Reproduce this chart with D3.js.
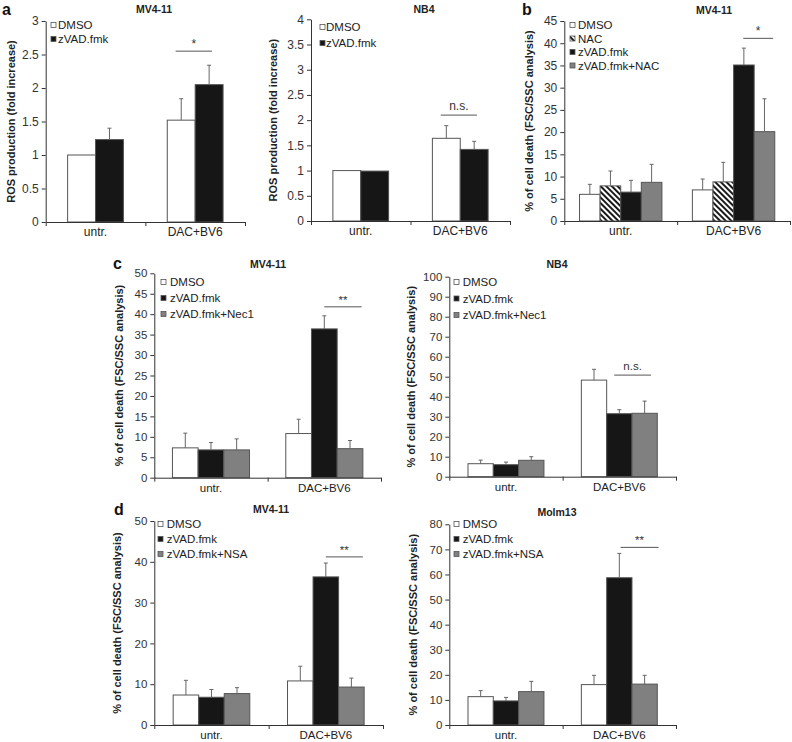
<!DOCTYPE html>
<html>
<head>
<meta charset="utf-8">
<script src="https://cdn.jsdelivr.net/npm/d3@7"></script>
<style>
  html, body { margin: 0; padding: 0; background: #fff; }
  svg { display: block; font-family: "Liberation Sans", Arial, sans-serif; }
</style>
</head>
<body>
<svg id="chart" width="792" height="742"></svg>
<script>
// ---------------- DATA ----------------
const categories = ["untr.", "DAC+BV6"];

// Panel a (ROS production, fold increase) - MV4-11
const aMV4Series = ["DMSO", "zVAD.fmk"];
const aMV4Mean = [[1.00, 1.52], [1.23, 2.05]];
const aMV4Err  = [[0.00, 0.32], [0.17, 0.29]];
const aMV4Ticks = [0, 0.5, 1, 1.5, 2, 2.5, 3];

// Panel a - NB4
const aNB4Series = ["DMSO", "zVAD.fmk"];
const aNB4Mean = [[1.00, 1.64], [0.99, 1.42]];
const aNB4Err  = [[0.00, 0.25], [0.00, 0.16]];
const aNB4Ticks = [0, 0.5, 1, 1.5, 2, 2.5, 3, 3.5, 4];

// Panel b - MV4-11 (% cell death)
const bSeries = ["DMSO", "NAC", "zVAD.fmk", "zVAD.fmk+NAC"];
const bMean = [[6.0, 7.0], [7.9, 8.8], [6.5, 35.1], [8.7, 20.1]];
const bErr  = [[2.25, 2.45], [3.35, 4.4], [2.65, 3.8], [4.05, 7.4]];
const bTicks = [0, 5, 10, 15, 20, 25, 30, 35, 40, 45];

// Panel c - MV4-11
const cMV4Series = ["DMSO", "zVAD.fmk", "zVAD.fmk+Nec1"];
const cMV4Mean = [[7.3, 10.8], [6.8, 36.4], [6.8, 7.1]];
const cMV4Err  = [[3.6, 3.5], [1.8, 3.2], [2.7, 2.0]];
const cMV4Ticks = [0, 5, 10, 15, 20, 25, 30, 35, 40, 45, 50];

// Panel c - NB4
const cNB4Series = ["DMSO", "zVAD.fmk", "zVAD.fmk+Nec1"];
const cNB4Mean = [[6.5, 48.3], [6.0, 31.5], [8.2, 31.7]];
const cNB4Err  = [[1.8, 5.4], [1.3, 2.0], [1.8, 6.1]];
const cNB4Ticks = [0, 10, 20, 30, 40, 50, 60, 70, 80, 90, 100];

// Panel d - MV4-11
const dMV4Series = ["DMSO", "zVAD.fmk", "zVAD.fmk+NSA"];
const dMV4Mean = [[7.35, 10.8], [6.8, 36.3], [7.7, 9.3]];
const dMV4Err  = [[3.6, 3.6], [1.9, 3.4], [1.45, 2.2]];
const dMV4Ticks = [0, 10, 20, 30, 40, 50];

// Panel d - Molm13
const dMolSeries = ["DMSO", "zVAD.fmk", "zVAD.fmk+NSA"];
const dMolMean = [[11.3, 16.1], [9.6, 58.7], [13.3, 16.3]];
const dMolErr  = [[2.4, 3.7], [1.4, 9.7], [4.1, 3.5]];
const dMolTicks = [0, 10, 20, 30, 40, 50, 60, 70, 80];

// significance annotations: [series from, series to, y value, label]
const aMV4Sig = [0, 1, 2.55, "*"];
const aNB4Sig = [0, 1, 2.10, "n.s."];
const bSig    = [2, 3, 41.1, "*"];
const cMV4Sig = [1, 2, 41.8, "**"];
const cNB4Sig = [1, 2, 50.8, "n.s."];
const dMV4Sig = [1, 2, 41.2, "**"];
const dMolSig = [1, 2, 70.8, "**"];

// ---------------- STYLE ----------------
const FILL = {
  "DMSO": "#ffffff",
  "NAC": "url(#hatch)",
  "zVAD.fmk": "#161616",
  "zVAD.fmk+NAC": "#808080",
  "zVAD.fmk+Nec1": "#808080",
  "zVAD.fmk+NSA": "#808080"
};

const svg = d3.select("#chart");
const defs = svg.append("defs");
const pat = defs.append("pattern").attr("id", "hatch")
  .attr("patternUnits", "userSpaceOnUse").attr("width", 4).attr("height", 4)
  .attr("patternTransform", "rotate(-45)");
pat.append("rect").attr("width", 4).attr("height", 4).attr("fill", "#fff");
pat.append("rect").attr("width", 2).attr("height", 4).attr("fill", "#1a1a1a");

function panel(cfg) {
  const g = svg.append("g");
  const y = d3.scaleLinear().domain([0, cfg.ticks[cfg.ticks.length - 1]]).range([cfg.yBot, cfg.yTop]);
  const x0 = d3.scaleBand().domain(categories).range([cfg.x0, cfg.x1])
    .paddingInner(1 - cfg.groupFrac).paddingOuter((1 - cfg.groupFrac) / 2);
  const x1 = d3.scaleBand().domain(d3.range(cfg.series.length)).range([0, x0.bandwidth()]);
  const fs = cfg.fs;

  // y axis
  const yAxis = d3.axisLeft(y).tickValues(cfg.ticks).tickSize(4).tickSizeOuter(0)
    .tickPadding(3).tickFormat(d => String(d));
  const ya = g.append("g").attr("transform", `translate(${cfg.x0},0)`).call(yAxis);
  ya.select(".domain").attr("stroke", "#333");
  ya.selectAll(".tick line").attr("stroke", "#333");
  ya.selectAll(".tick text").attr("fill", "#333").style("font-size", fs + "px")
    .style("font-family", '"Liberation Sans", Arial, sans-serif');

  // bars
  cfg.series.forEach((s, si) => {
    categories.forEach((c, ci) => {
      const v = cfg.mean[si][ci], e = cfg.err[si][ci];
      const bx = x0(c) + x1(si), bw = x1.bandwidth();
      g.append("rect").attr("x", bx).attr("y", y(v)).attr("width", bw).attr("height", y(0) - y(v))
        .attr("fill", FILL[s]).attr("stroke", "#555").attr("stroke-width", 1);
      if (e > 0) {
        const cx = bx + bw / 2;
        g.append("line").attr("x1", cx).attr("x2", cx).attr("y1", y(v)).attr("y2", y(v + e))
          .attr("stroke", "#666").attr("stroke-width", 1);
        g.append("line").attr("x1", cx - 2).attr("x2", cx + 2).attr("y1", y(v + e)).attr("y2", y(v + e))
          .attr("stroke", "#666").attr("stroke-width", 1);
      }
    });
  });

  // x axis with ticks at category boundaries
  const xb = d3.scaleLinear().domain([0, categories.length]).range([cfg.x0, cfg.x1]);
  const xAxis = d3.axisBottom(xb).tickValues(d3.range(categories.length + 1)).tickFormat("").tickSize(4).tickSizeOuter(0);
  const xa = g.append("g").attr("transform", `translate(0,${cfg.yBot})`).call(xAxis);
  xa.selectAll("path,line").attr("stroke", "#333");
  categories.forEach(c => {
    g.append("text").attr("x", x0(c) + x0.bandwidth() / 2).attr("y", cfg.yBot + cfg.xlabDy)
      .attr("text-anchor", "middle").attr("fill", "#222").style("font-size", fs + "px").text(c);
  });

  // significance
  const [sf, st, sv, sl] = cfg.sig;
  const c2 = categories[1];
  const lx1 = x0(c2) + x1(sf) + x1.bandwidth() * cfg.sigF[0];
  const lx2 = x0(c2) + x1(st) + x1.bandwidth() * cfg.sigF[1];
  g.append("line").attr("x1", lx1).attr("x2", lx2).attr("y1", y(sv)).attr("y2", y(sv))
    .attr("stroke", "#555").attr("stroke-width", 1);
  g.append("text").attr("x", (lx1 + lx2) / 2).attr("y", y(sv) - (sl === "n.s." ? 5 : 3))
    .attr("text-anchor", "middle").attr("fill", "#333").style("font-size", fs + "px").text(sl);

  // legend
  cfg.series.forEach((s, i) => {
    const ly = cfg.legY + i * cfg.legDy;
    g.append("rect").attr("x", cfg.legX).attr("y", ly - 2.5).attr("width", 5).attr("height", 5)
      .attr("fill", FILL[s]).attr("stroke", "#555").attr("stroke-width", 0.8);
    g.append("text").attr("x", cfg.legTx).attr("y", ly + 4).attr("fill", "#222")
      .style("font-size", cfg.legFs + "px").text(s);
  });

  // title
  g.append("text").attr("x", cfg.titleX).attr("y", cfg.titleY).attr("text-anchor", "middle")
    .attr("font-weight", "bold").attr("fill", "#222").style("font-size", "10.5px").text(cfg.title);

  // y label
  const cyMid = (cfg.yTop + cfg.yBot) / 2;
  g.append("text").attr("transform", `translate(${cfg.ylabX},${cyMid}) rotate(-90)`)
    .attr("text-anchor", "middle").attr("font-weight", "bold").attr("fill", "#222")
    .style("font-size", "11px").text(cfg.ylabel);

  if (cfg.letter) {
    g.append("text").attr("x", cfg.letter[1]).attr("y", cfg.letter[2]).attr("font-weight", "bold")
      .attr("fill", "#111").style("font-size", "16px").text(cfg.letter[0]);
  }
}

const ROS = "ROS production (fold increase)";
const DEATH = "% of cell death (FSC/SSC analysis)";

panel({ series: aMV4Series, mean: aMV4Mean, err: aMV4Err, ticks: aMV4Ticks, sig: aMV4Sig, sigF: [0.3, 0.6],
  x0: 45.7, x1: 245, yTop: 21, yBot: 222, groupFrac: 0.56, fs: 12, xlabDy: 14,
  legX: 51, legTx: 58, legY: 25, legDy: 14, legFs: 11.5,
  title: "MV4-11", titleX: 154, titleY: 13, ylabel: ROS, ylabX: 15, letter: ["a", 2, 15] });

panel({ series: aNB4Series, mean: aNB4Mean, err: aNB4Err, ticks: aNB4Ticks, sig: aNB4Sig, sigF: [0.3, 0.6],
  x0: 311, x1: 510, yTop: 19.3, yBot: 221, groupFrac: 0.56, fs: 12, xlabDy: 14,
  legX: 320, legTx: 326, legY: 27, legDy: 16, legFs: 11.5,
  title: "NB4", titleX: 424, titleY: 13, ylabel: ROS, ylabX: 277 });

panel({ series: bSeries, mean: bMean, err: bErr, ticks: bTicks, sig: bSig, sigF: [0.47, 0.92],
  x0: 564.3, x1: 790, yTop: 21, yBot: 221, groupFrac: 0.73, fs: 12, xlabDy: 14,
  legX: 570, legTx: 578, legY: 25, legDy: 13.5, legFs: 11.5,
  title: "MV4-11", titleX: 714, titleY: 14, ylabel: DEATH, ylabX: 533, letter: ["b", 522, 15] });

panel({ series: cMV4Series, mean: cMV4Mean, err: cMV4Err, ticks: cMV4Ticks, sig: cMV4Sig, sigF: [0.5, 0.95],
  x0: 154.3, x1: 381, yTop: 273.3, yBot: 477.7, groupFrac: 0.68, fs: 11.5, xlabDy: 14,
  legX: 161, legTx: 170, legY: 282, legDy: 16, legFs: 11.5,
  title: "MV4-11", titleX: 268, titleY: 268, ylabel: DEATH, ylabX: 123, letter: ["c", 113, 269] });

panel({ series: cNB4Series, mean: cNB4Mean, err: cNB4Err, ticks: cNB4Ticks, sig: cNB4Sig, sigF: [0.3, 0.75],
  x0: 449.3, x1: 676, yTop: 276.7, yBot: 476.7, groupFrac: 0.67, fs: 11.5, xlabDy: 14,
  legX: 454, legTx: 462.7, legY: 282, legDy: 16.5, legFs: 11.5,
  title: "NB4", titleX: 557, titleY: 268, ylabel: DEATH, ylabX: 415 });

panel({ series: dMV4Series, mean: dMV4Mean, err: dMV4Err, ticks: dMV4Ticks, sig: dMV4Sig, sigF: [0.5, 0.95],
  x0: 154.3, x1: 383, yTop: 521, yBot: 725, groupFrac: 0.67, fs: 11.5, xlabDy: 14,
  legX: 158, legTx: 166.7, legY: 524, legDy: 15, legFs: 11.5,
  title: "MV4-11", titleX: 271, titleY: 513, ylabel: DEATH, ylabX: 121, letter: ["d", 114, 515] });

panel({ series: dMolSeries, mean: dMolMean, err: dMolErr, ticks: dMolTicks, sig: dMolSig, sigF: [0.55, 1.05],
  x0: 449.3, x1: 676, yTop: 524.3, yBot: 725, groupFrac: 0.67, fs: 11.5, xlabDy: 14,
  legX: 454, legTx: 462.7, legY: 524, legDy: 15, legFs: 11.5,
  title: "Molm13", titleX: 557, titleY: 516, ylabel: DEATH, ylabX: 417 });
</script>
</body>
</html>
